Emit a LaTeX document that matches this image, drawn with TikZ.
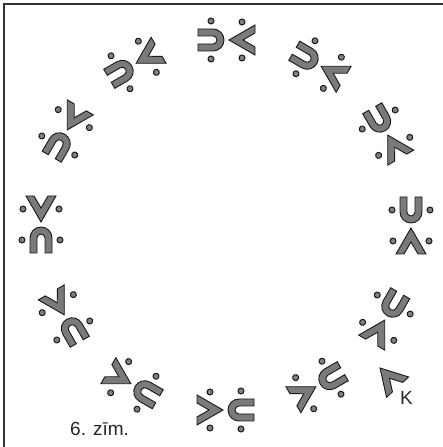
\documentclass[tikz,border=0pt]{standalone}
\usepackage{fontspec}
\setmainfont{Liberation Sans}
\tikzset{
  glyph/.style={fill=black!52, draw=black!90, line width=0.9pt, line join=miter},
  dotmark/.style={fill=black!50, draw=black!90, line width=1pt},
  frameline/.style={line width=1.5pt, draw=black!80},
  txt/.style={font=\fontsize{19}{22}\selectfont, text=black!85, inner sep=0pt}
}
\begin{document}
\begin{tikzpicture}[x=1pt,y=1pt]
\useasboundingbox (0,0) rectangle (443,447);
\draw[frameline] (443,443) -- (4,443) -- (4,0);
\coordinate (c) at (226,222);
\foreach \a in {0,30,...,330}{
  \begin{scope}[shift={(c)}, rotate=\a, shift={(185,0)}]
    \filldraw[glyph] (-11,28) -- (-11,13) arc (180:360:11) -- (11,28) -- (4,28) -- (4,13) arc (0:-180:4) -- (-4,28) -- cycle;
    \filldraw[glyph] (0,-3) -- (-15,-29) -- (-7,-29) -- (0,-17) -- (7,-29) -- (15,-29) -- cycle;
    \foreach \p in {(-19,15),(19,15),(-18,-16),(18,-16)} \filldraw[dotmark] \p circle (3);
  \end{scope}
}
\begin{scope}[shift={(380,79)}, rotate=42.6]
  \filldraw[glyph] (0,0) -- (-15,-26) -- (-7,-26) -- (0,-14) -- (7,-26) -- (15,-26) -- cycle;
\end{scope}
\node[txt] (k) at (406.5,49) {K};
\node[txt, anchor=base west] (cap) at (70,12) {6. zīm.};
\end{tikzpicture}
\end{document}
